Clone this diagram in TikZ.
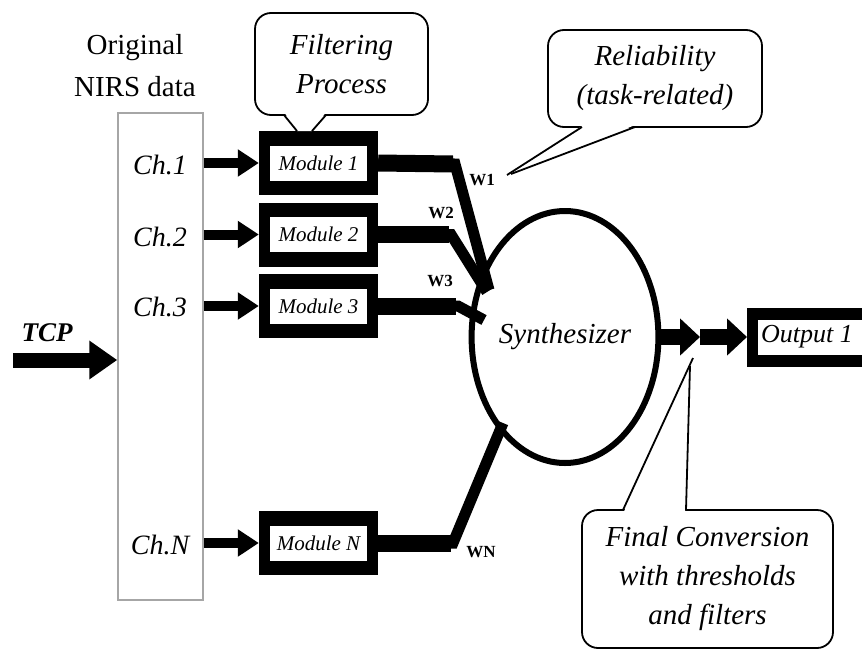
\documentclass[tikz,border=0pt]{standalone}
\usepackage{fontspec}
\setmainfont{Liberation Serif}
\usetikzlibrary{arrows.meta,shapes.geometric,calc}
\begin{document}
\begin{tikzpicture}[x=1pt,y=-1pt,
  chlbl/.style={font=\fontsize{28}{32}\selectfont\itshape, inner sep=0pt},
  modouter/.style={fill=black, minimum width=119pt, minimum height=64pt, inner sep=0pt},
  modinner/.style={fill=white, minimum width=97pt, minimum height=35pt, inner sep=0pt, font=\fontsize{21}{24}\selectfont\itshape},
  feed/.style={line width=10pt, -{Triangle[length=21pt,width=26pt]}},
  hline/.style={line width=17pt},
  wline/.style={line width=11pt, line join=miter, miter limit=10},
  wlbl/.style={font=\fontsize{17}{19}\selectfont\bfseries, inner sep=0pt},
  callbox/.style={draw=black, line width=1.8pt, fill=white, rounded corners=16pt, inner sep=0pt, align=center, font=\fontsize{29}{39}\selectfont\itshape},
  pointer/.style={draw=black, line width=1.8pt},
  outarrow/.style={line width=16pt, -{Triangle[length=20pt,width=36pt]}},
]
\useasboundingbox (0,0) rectangle (862,651);
\begin{scope}
\clip (0,0) rectangle (862,651);

% original data
\node[align=center, font=\fontsize{29}{42}\selectfont, inner sep=0pt] (orig) at (135,66) {Original\\NIRS data};
\node[draw=black!35, line width=1.5pt, minimum width=85pt, minimum height=487pt, inner sep=0pt] (data) at (160.5,356.5) {};

\node[chlbl] (c1) at (160,165) {Ch.1};
\node[chlbl] (c2) at (160,237) {Ch.2};
\node[chlbl] (c3) at (160,307) {Ch.3};
\node[chlbl] (cn) at (160,545) {Ch.N};

% TCP
\node[font=\fontsize{27}{30}\selectfont\bfseries\itshape, inner sep=0pt] (tcp) at (47,333) {TCP};
\coordinate (tcp0) at (13,360);
\draw[line width=15pt, -{Triangle[length=28pt,width=37pt]}] (tcp0) -- (tcp0 -| data.west);

% callouts
\node[callbox, minimum width=173pt, minimum height=102pt] (filt) at (341.5,64) {Filtering\\Process};
\node[callbox, minimum width=214pt, minimum height=97pt] (rel) at (655,78.5) {Reliability\\(task-related)};
\node[callbox, minimum width=251pt, minimum height=138pt] (fin) at (707.5,579) {Final Conversion\\with thresholds\\and filters};

% modules
\node[modouter] (m1) at (318.5,163) {};
\node[modouter] (m2) at (318.5,234.5) {};
\node[modouter] (m3) at (318.5,306) {};
\node[modouter] (mn) at (318.5,543) {};
\node[modinner] (m1t) at (m1) {Module 1};
\node[modinner] (m2t) at (m2) {Module 2};
\node[modinner] (m3t) at (m3) {Module 3};
\node[modinner] (mnt) at (mn) {Module N};

% pointers
\coordinate (fa) at (284,115); \coordinate (fb) at (326,115);
\coordinate (fta) at (297,131); \coordinate (ftb) at (312,131);
\fill[white] ($(fa)+(1,-1.5)$) -- ($(fb)+(-1,-1.5)$) -- (ftb) -- (fta) -- cycle;
\draw[pointer] (fa) -- (fta);
\draw[pointer] (fb) -- (ftb);

\coordinate (ra) at (582,127); \coordinate (rb) at (635,127);
\coordinate (rta) at (507,175); \coordinate (rtb) at (511,174);
\fill[white] ($(ra)+(1,-1.5)$) -- ($(rb)+(-1,-1.5)$) -- (rtb) -- (rta) -- cycle;
\draw[pointer] (ra) -- (rta);
\draw[pointer] (rb) -- (rtb);

\coordinate (qa) at (623,510); \coordinate (qb) at (686,510);
\coordinate (qta) at (693,358); \coordinate (qtb) at (690,366);
\fill[white] ($(qa)+(1,1.5)$) -- ($(qb)+(-1,1.5)$) -- (qtb) -- (qta) -- cycle;
\draw[pointer] (qa) -- (qta);
\draw[pointer] (qb) -- (qtb);

% feeds
\draw[feed] (data.east |- m1.west) -- (m1.west);
\draw[feed] (data.east |- m2.west) -- (m2.west);
\draw[feed] (data.east |- m3.west) -- (m3.west);
\draw[feed] (data.east |- mn.west) -- (mn.west);

% synthesizer
\node[ellipse, draw=black, line width=6pt, minimum width=164pt, minimum height=252pt, inner sep=0pt, font=\fontsize{29}{32}\selectfont\itshape] (syn) at (565,337) {Synthesizer};

% weighted lines
\coordinate (b1) at (455,164); \coordinate (j1) at (489,290);
\coordinate (b2) at (451,234.5); \coordinate (j2) at (487,292);
\coordinate (b3) at (458,306); \coordinate (j3) at (484,320);
\coordinate (bn) at (453,543); \coordinate (jn) at (503,423);
\draw[wline] (m1.east) -- (b1) -- (j1);
\draw[hline] (m1.east) -- ($(b1)+(-2,0)$);
\draw[wline] (m2.east) -- (b2) -- (j2);
\draw[hline] (m2.east) -- ($(b2)+(-2,0)$);
\draw[wline] (m3.east) -- (b3) -- (j3);
\draw[hline] (m3.east) -- ($(b3)+(-2,0)$);
\draw[wline] (mn.east) -- (bn) -- (jn);
\draw[hline] (mn.east) -- ($(bn)+(-2,0)$);

\node[wlbl] (w1) at (482,180) {W1};
\node[wlbl] (w2) at (441,213) {W2};
\node[wlbl] (w3) at (440,281) {W3};
\node[wlbl] (wn) at (481,552) {WN};

% output
\node[fill=black, minimum width=140pt, minimum height=59pt, inner sep=0pt, anchor=west] (outb) at (747,337) {};
\node[fill=white, minimum width=125pt, minimum height=35pt, inner sep=0pt, anchor=west] (outi) at (758,337) {};
\node[anchor=west, inner sep=0pt, font=\fontsize{26}{30}\selectfont\itshape] (outt) at (761,337) {Output 1};
\coordinate (oa) at (700,337);
\draw[outarrow] (syn.east) -- (oa);
\draw[outarrow] (oa) -- (outb.west);
\end{scope}
\end{tikzpicture}
\end{document}
